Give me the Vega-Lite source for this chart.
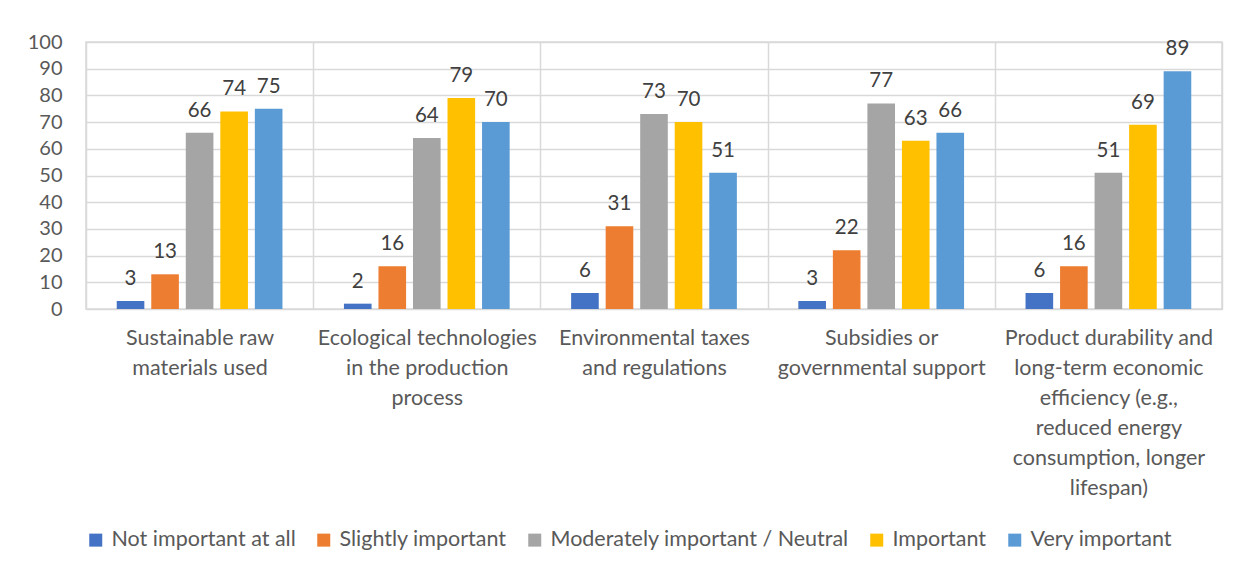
{
  "$schema": "https://vega.github.io/schema/vega-lite/v6.json",
  "width": 1136,
  "height": 267,
  "autosize": {"type": "none"},
  "padding": {"left": 86, "top": 42, "right": 17, "bottom": 259},
  "background": "white",
  "config": {
    "font": "Lato",
    "view": {"stroke": "#d9d9d9", "strokeWidth": 1.5}
  },
  "data": {
    "values": [
      {"category": "Sustainable raw materials used", "level": "Not important at all", "value": 3},
      {"category": "Sustainable raw materials used", "level": "Slightly important", "value": 13},
      {"category": "Sustainable raw materials used", "level": "Moderately important / Neutral", "value": 66},
      {"category": "Sustainable raw materials used", "level": "Important", "value": 74},
      {"category": "Sustainable raw materials used", "level": "Very important", "value": 75},
      {"category": "Ecological technologies in the production process", "level": "Not important at all", "value": 2},
      {"category": "Ecological technologies in the production process", "level": "Slightly important", "value": 16},
      {"category": "Ecological technologies in the production process", "level": "Moderately important / Neutral", "value": 64},
      {"category": "Ecological technologies in the production process", "level": "Important", "value": 79},
      {"category": "Ecological technologies in the production process", "level": "Very important", "value": 70},
      {"category": "Environmental taxes and regulations", "level": "Not important at all", "value": 6},
      {"category": "Environmental taxes and regulations", "level": "Slightly important", "value": 31},
      {"category": "Environmental taxes and regulations", "level": "Moderately important / Neutral", "value": 73},
      {"category": "Environmental taxes and regulations", "level": "Important", "value": 70},
      {"category": "Environmental taxes and regulations", "level": "Very important", "value": 51},
      {"category": "Subsidies or governmental support", "level": "Not important at all", "value": 3},
      {"category": "Subsidies or governmental support", "level": "Slightly important", "value": 22},
      {"category": "Subsidies or governmental support", "level": "Moderately important / Neutral", "value": 77},
      {"category": "Subsidies or governmental support", "level": "Important", "value": 63},
      {"category": "Subsidies or governmental support", "level": "Very important", "value": 66},
      {"category": "Product durability and long-term economic efficiency (e.g., reduced energy consumption, longer lifespan)", "level": "Not important at all", "value": 6},
      {"category": "Product durability and long-term economic efficiency (e.g., reduced energy consumption, longer lifespan)", "level": "Slightly important", "value": 16},
      {"category": "Product durability and long-term economic efficiency (e.g., reduced energy consumption, longer lifespan)", "level": "Moderately important / Neutral", "value": 51},
      {"category": "Product durability and long-term economic efficiency (e.g., reduced energy consumption, longer lifespan)", "level": "Important", "value": 69},
      {"category": "Product durability and long-term economic efficiency (e.g., reduced energy consumption, longer lifespan)", "level": "Very important", "value": 89}
    ]
  },
  "encoding": {
    "x": {
      "field": "category",
      "type": "nominal",
      "sort": null,
      "scale": {"paddingInner": 0, "paddingOuter": 0},
      "axis": {
        "title": null,
        "labelAngle": 0,
        "grid": true,
        "gridColor": "#d9d9d9",
        "gridWidth": 1.5,
        "tickBand": "extent",
        "ticks": false,
        "domain": false,
        "labelFontSize": 21.5,
        "labelColor": "#595959",
        "labelPadding": 18,
        "labelLineHeight": 30,
        "labelBaseline": "top",
        "labelLimit": 300,
        "labelExpr": "datum.label == 'Sustainable raw materials used' ? ['Sustainable raw', 'materials used'] : datum.label == 'Ecological technologies in the production process' ? ['Ecological technologies', 'in the production', 'process'] : datum.label == 'Environmental taxes and regulations' ? ['Environmental taxes', 'and regulations'] : datum.label == 'Subsidies or governmental support' ? ['Subsidies or', 'governmental support'] : datum.label == 'Product durability and long-term economic efficiency (e.g., reduced energy consumption, longer lifespan)' ? ['Product durability and', 'long-term economic', 'efficiency (e.g.,', 'reduced energy', 'consumption, longer', 'lifespan)'] : ''"
      }
    },
    "xOffset": {
      "field": "level",
      "type": "nominal",
      "sort": ["Not important at all", "Slightly important", "Moderately important / Neutral", "Important", "Very important"],
      "scale": {"paddingInner": 0.2, "paddingOuter": 0.89}
    },
    "y": {
      "field": "value",
      "type": "quantitative",
      "scale": {"domain": [0, 100], "nice": false},
      "axis": {
        "title": null,
        "values": [0, 10, 20, 30, 40, 50, 60, 70, 80, 90, 100],
        "grid": true,
        "gridColor": "#d9d9d9",
        "gridWidth": 1.5,
        "ticks": false,
        "domain": false,
        "labelFontSize": 20,
        "labelColor": "#595959",
        "labelPadding": 24
      }
    }
  },
  "layer": [
    {
      "mark": {"type": "bar"},
      "encoding": {
        "color": {
          "field": "level",
          "type": "nominal",
          "sort": ["Not important at all", "Slightly important", "Moderately important / Neutral", "Important", "Very important"],
          "scale": {
            "domain": ["Not important at all", "Slightly important", "Moderately important / Neutral", "Important", "Very important"],
            "range": ["#4472C4", "#ED7D31", "#A5A5A5", "#FFC000", "#5B9BD5"]
          },
          "legend": {
            "title": null,
            "orient": "none",
            "direction": "horizontal",
            "legendX": -1,
            "legendY": 487,
            "padding": 0,
            "symbolType": "square",
            "symbolSize": 169,
            "symbolStrokeWidth": 0,
            "labelFontSize": 21.5,
            "labelColor": "#595959",
            "labelOffset": 5,
            "columnPadding": 17,
            "labelLimit": 400
          }
        }
      }
    },
    {
      "mark": {"type": "text", "baseline": "bottom", "dy": -12, "fontSize": 20.5, "color": "#404040"},
      "encoding": {
        "text": {"field": "value", "type": "quantitative"}
      }
    }
  ]
}
